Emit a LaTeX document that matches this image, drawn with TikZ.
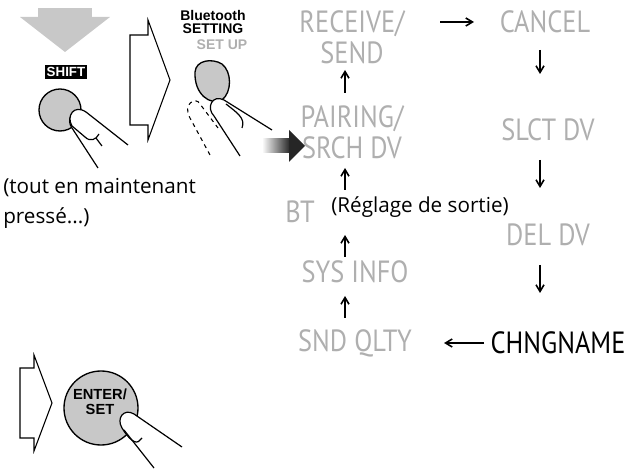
\documentclass[tikz,border=0pt]{standalone}
\usepackage{fontspec}
\setmainfont{Open Sans}
\newfontfamily\condfont[FakeStretch=0.86]{PT Sans}
\newfontfamily\btfont{Liberation Sans}
\usetikzlibrary{arrows.meta}
\definecolor{lgray}{HTML}{AFAFAF}
\definecolor{bgray}{HTML}{C8C8C8}
\begin{document}
\begin{tikzpicture}[x=0.75pt,y=-0.75pt,
  menu/.style={text=lgray,font=\condfont\fontsize{23}{23}\selectfont,align=center,inner sep=0pt},
  arr/.style={-{Straight Barb[length=5pt,width=6pt]},line width=1.2pt,black},
  note/.style={font=\fontsize{15.5}{20}\selectfont,align=left,inner sep=0pt},
  outl/.style={draw=black,line width=0.8pt,fill=white}]
\useasboundingbox (0,0) rectangle (628,473);
% menu items
\node[menu] (rec) at (352,37) {RECEIVE/\\SEND};
\node[menu] (can) at (545,22) {CANCEL};
\node[menu] (pair) at (352,132) {PAIRING/\\SRCH DV};
\node[menu] (slct) at (548,130) {SLCT DV};
\node[menu] (bt) at (300,212) {BT};
\node[note] (reg) at (420,207) {(Réglage de sortie)};
\node[menu] (del) at (548,235) {DEL DV};
\node[menu] (sys) at (355,272) {SYS INFO};
\node[menu] (snd) at (355,343) {SND QLTY};
\node[menu,text=black] (chg) at (558,343) {CHNGNAME};
% arrows
\draw[arr] (440,22) coordinate (a1) -- (474,22) coordinate (a2);
\draw[arr] (540,50) coordinate (b1) -- (540,74) coordinate (b2);
\draw[arr] (540,160) -- (540,188);
\draw[arr] (540,265) -- (540,293);
\draw[arr] (484,343) -- (444,343);
\draw[arr] (345,93) -- (345,70);
\draw[arr] (345,190) -- (345,168);
\draw[arr] (345,257) -- (345,235);
\draw[arr] (345,318) -- (345,296);
% gradient arrow
\shade[left color=white,right color=black!85] (262,139) rectangle (290,153);
\fill[black!85] (289,130) -- (305,146) -- (289,162) -- cycle;
% left text
\node[note,anchor=west] (t1) at (3,188) {(tout en maintenant};
\node[note,anchor=west] (t2) at (3,218) {pressé...)};
% top-left illustration
\fill[bgray] (20,17) -- (110,17) -- (65,52) -- cycle;
\fill[bgray] (38,8) rectangle (92,18);
\node[fill=black,text=white,font=\btfont\bfseries\fontsize{10}{10}\selectfont,inner sep=1.5pt] (shift) at (66,72) {SHIFT};
\draw[fill=bgray,line width=1pt] (60,110) circle (21);
\draw[fill=white,line width=0.9pt] (102,146) -- (80,117) .. controls (72,108) and (66,120) .. (72,128) -- (98,168);
\draw[fill=white,line width=0.9pt] (128,145) -- (86,112) .. controls (74,104) and (66,116) .. (72,126) -- (85,137) .. controls (90,142) and (96,140) .. (99,134);
% outline arrow 1
\draw[outl] (130,35) -- (148,35) -- (148,20) -- (170,80) -- (148,140) -- (148,125) -- (130,125) -- cycle;
% bluetooth
\node[font=\btfont\bfseries\fontsize{10.5}{10}\selectfont,align=center,inner sep=0pt] (bt1) at (213,22) {Bluetooth\\SETTING};
\node[font=\btfont\bfseries\fontsize{10.5}{10}\selectfont,text=lgray,inner sep=0pt] (bt2) at (222,45) {SET UP};
\draw[fill=bgray,line width=1pt] (195,72) .. controls (196,60) and (212,58) .. (222,64) .. controls (232,72) and (232,92) .. (222,100) .. controls (210,106) and (194,94) .. (195,72);
\draw[dashed,line width=0.8pt] (210,155) -- (190,118) .. controls (182,104) and (196,96) .. (200,104) -- (218,128);
\draw[fill=white,line width=0.9pt] (272,130) -- (224,100) .. controls (212,94) and (206,108) .. (214,116) -- (240,156);
\draw[line width=0.9pt] (226,104) .. controls (236,112) and (246,118) .. (242,128);
% bottom illustration
\draw[outl] (20,368) -- (34,368) -- (34,355) -- (52,403) -- (34,451) -- (34,438) -- (20,438) -- cycle;
\draw[fill=bgray,line width=1pt] (101,408) circle (37);
\node[font=\btfont\bfseries\fontsize{11}{11}\selectfont,align=center,inner sep=0pt] (ent) at (100,402) {ENTER/\\SET};
\draw[fill=white,line width=0.9pt] (182,447) -- (134,414) .. controls (124,408) and (116,418) .. (122,428) .. controls (128,438) and (136,446) .. (140,440) -- (142,438);
\draw[line width=0.9pt] (124,430) -- (154,468);
\end{tikzpicture}
\end{document}
